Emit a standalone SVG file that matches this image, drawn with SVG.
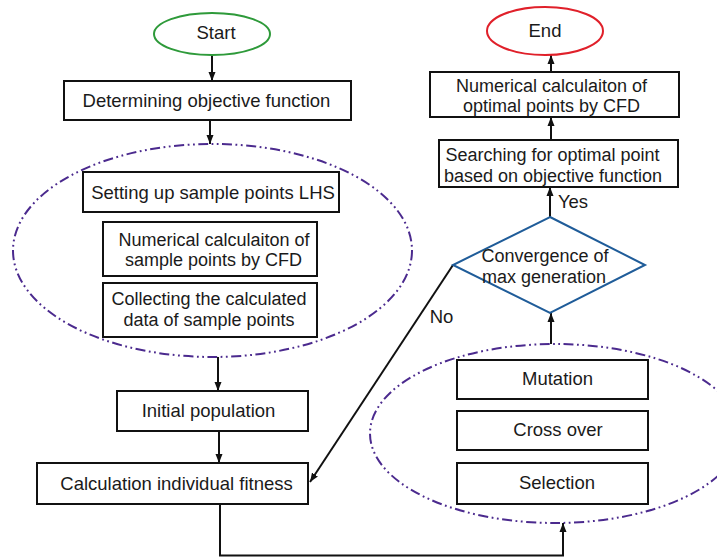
<svg xmlns="http://www.w3.org/2000/svg" width="717" height="558" viewBox="0 0 717 558">
<style>
  .box{fill:#fff;stroke:#111;stroke-width:2}
  .t{font-family:"Liberation Sans",Arial,sans-serif;font-size:18.5px;fill:#1a1a1a;text-anchor:middle}
  .t2{font-size:18px}
  .c{fill:none;stroke:#111;stroke-width:2}
  .grp{fill:none;stroke:#4b2a8e;stroke-width:2;stroke-dasharray:10 3.5 1.8 3.5 1.8 3.5}
</style>
<defs>
  <marker id="ah" markerUnits="userSpaceOnUse" markerWidth="10" markerHeight="10" viewBox="0 0 10 10" refX="9" refY="5" orient="auto">
    <path d="M0,1.5 L9,5 L0,8.5 Z" fill="#111"/>
  </marker>
</defs>
<rect width="717" height="558" fill="#fff"/>

<g id="groups">
  <ellipse id="sampling-group" class="grp" cx="212.5" cy="250.5" rx="199.5" ry="106.5"/>
  <ellipse id="ga-group" class="grp" cx="555" cy="433.5" rx="185" ry="89.5"/>
</g>

<g id="connectors">
  <line class="c" x1="212" y1="55" x2="212" y2="81" marker-end="url(#ah)"/>
  <line class="c" x1="210" y1="120" x2="210" y2="144" marker-end="url(#ah)"/>
  <line class="c" x1="218" y1="357" x2="218" y2="391" marker-end="url(#ah)"/>
  <line class="c" x1="219" y1="431" x2="219" y2="463" marker-end="url(#ah)"/>
  <polyline class="c" points="220,504 220,555.5 563,555.5 563,523" marker-end="url(#ah)"/>
  <line class="c" x1="551" y1="344" x2="551" y2="313" marker-end="url(#ah)"/>
  <line class="c" x1="550" y1="217" x2="550" y2="187" marker-end="url(#ah)"/>
  <line class="c" x1="551" y1="140" x2="551" y2="117" marker-end="url(#ah)"/>
  <line class="c" x1="551" y1="72" x2="551" y2="55" marker-end="url(#ah)"/>
  <line class="c" x1="453" y1="265" x2="310" y2="482" marker-end="url(#ah)"/>
  <text class="t" x="441.5" y="323">No</text>
  <text class="t" x="573" y="208">Yes</text>
</g>

<g id="start">
  <ellipse cx="212" cy="34" rx="58" ry="21" fill="#fff" stroke="#2e9a3a" stroke-width="2"/>
  <text class="t" x="216" y="39">Start</text>
</g>
<g id="determining">
  <rect class="box" x="64" y="81" width="287" height="39"/>
  <text class="t" x="206.5" y="107">Determining objective function</text>
</g>
<g id="setting-up">
  <rect class="box" x="83" y="172" width="256" height="40"/>
  <text class="t" x="213" y="198.5">Setting up sample points LHS</text>
</g>
<g id="numerical-sample">
  <rect class="box" x="103" y="222" width="214" height="54"/>
  <text class="t t2" x="214" y="245.5">Numerical calculaiton of</text>
  <text class="t t2" x="213.5" y="266">sample points by CFD</text>
</g>
<g id="collecting">
  <rect class="box" x="103" y="283" width="214" height="54"/>
  <text class="t t2" x="209" y="305">Collecting the calculated</text>
  <text class="t t2" x="209" y="325.5">data of sample points</text>
</g>
<g id="initial-population">
  <rect class="box" x="117" y="391" width="191" height="40"/>
  <text class="t" x="208.5" y="417">Initial population</text>
</g>
<g id="calc-fitness">
  <rect class="box" x="37" y="463" width="271" height="41"/>
  <text class="t" x="176.5" y="490">Calculation individual fitness</text>
</g>
<g id="mutation">
  <rect class="box" x="457" y="360" width="191" height="39"/>
  <text class="t" x="557.5" y="385">Mutation</text>
</g>
<g id="cross-over">
  <rect class="box" x="457" y="411" width="191" height="39"/>
  <text class="t" x="558" y="436">Cross over</text>
</g>
<g id="selection">
  <rect class="box" x="457" y="463" width="191" height="41"/>
  <text class="t" x="557" y="489">Selection</text>
</g>
<g id="convergence">
  <polygon points="550,217 645,265 550,313 453,265" fill="#fff" stroke="#1f5c99" stroke-width="2"/>
  <text class="t t2" x="545" y="262">Convergence of</text>
  <text class="t t2" x="544" y="282.5">max generation</text>
</g>
<g id="searching">
  <rect class="box" x="439" y="140" width="239" height="47"/>
  <text class="t t2" x="552.5" y="161">Searching for optimal point</text>
  <text class="t t2" x="553" y="181.5">based on objective function</text>
</g>
<g id="numerical-optimal">
  <rect class="box" x="430" y="72" width="249" height="45"/>
  <text class="t t2" x="551.5" y="91.5">Numerical calculaiton of</text>
  <text class="t t2" x="551.5" y="112">optimal points by CFD</text>
</g>
<g id="end">
  <ellipse cx="545" cy="31" rx="58" ry="24" fill="#fff" stroke="#e0202a" stroke-width="2"/>
  <text class="t" x="545" y="37">End</text>
</g>
</svg>
